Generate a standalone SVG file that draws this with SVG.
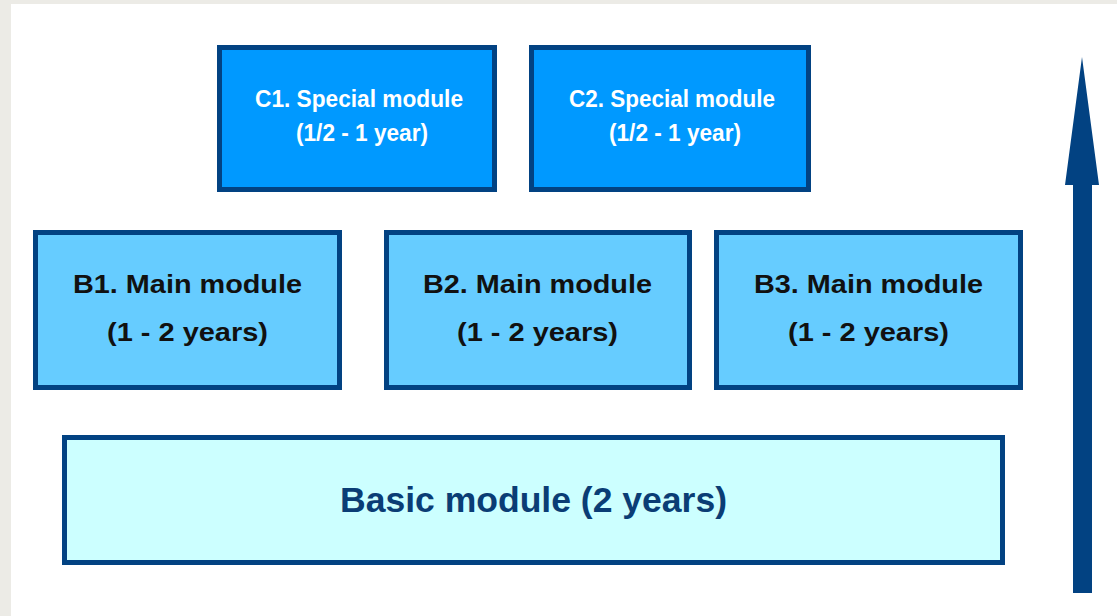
<svg xmlns="http://www.w3.org/2000/svg" width="1117" height="616" viewBox="0 0 1117 616">
  <style>
    .box { stroke: #024282; stroke-width: 5; }
    .c { fill: #0099ff; }
    .b { fill: #66ccff; }
    .basic { fill: #ccffff; }
    .t { font-family: "Liberation Sans", Arial, sans-serif; font-weight: bold; text-anchor: middle; }
    .ct { fill: #ffffff; font-size: 23px; }
    .bt { fill: #111111; font-size: 25px; }
    .basict { fill: #0a3d75; font-size: 35.5px; }
  </style>
  <rect x="0" y="0" width="1117" height="616" fill="#ecebe6"/>
  <rect x="11" y="4" width="1106" height="612" fill="#ffffff"/>

  <g id="C1">
    <rect class="box c" x="219.5" y="47.5" width="275" height="142"/>
    <text class="t ct" x="359" y="107" textLength="208" lengthAdjust="spacingAndGlyphs">C1. Special module</text>
    <text class="t ct" x="362" y="141" textLength="132" lengthAdjust="spacingAndGlyphs">(1/2 - 1 year)</text>
  </g>
  <g id="C2">
    <rect class="box c" x="531.5" y="47.5" width="277" height="142"/>
    <text class="t ct" x="672" y="107" textLength="206" lengthAdjust="spacingAndGlyphs">C2. Special module</text>
    <text class="t ct" x="675" y="141" textLength="132" lengthAdjust="spacingAndGlyphs">(1/2 - 1 year)</text>
  </g>

  <g id="B1">
    <rect class="box b" x="35.5" y="232.5" width="304" height="155"/>
    <text class="t bt" x="187.5" y="293" textLength="229" lengthAdjust="spacingAndGlyphs">B1. Main module</text>
    <text class="t bt" x="187.5" y="341" textLength="161" lengthAdjust="spacingAndGlyphs">(1 - 2 years)</text>
  </g>
  <g id="B2">
    <rect class="box b" x="386.5" y="232.5" width="303" height="155"/>
    <text class="t bt" x="537.5" y="293" textLength="229" lengthAdjust="spacingAndGlyphs">B2. Main module</text>
    <text class="t bt" x="537.5" y="341" textLength="161" lengthAdjust="spacingAndGlyphs">(1 - 2 years)</text>
  </g>
  <g id="B3">
    <rect class="box b" x="716.5" y="232.5" width="304" height="155"/>
    <text class="t bt" x="868.5" y="293" textLength="229" lengthAdjust="spacingAndGlyphs">B3. Main module</text>
    <text class="t bt" x="868.5" y="341" textLength="161" lengthAdjust="spacingAndGlyphs">(1 - 2 years)</text>
  </g>

  <g id="Basic">
    <rect class="box basic" x="64.5" y="437.5" width="938" height="125"/>
    <text class="t basict" x="533.5" y="512" textLength="387" lengthAdjust="spacingAndGlyphs">Basic module (2 years)</text>
  </g>

  <g id="connectors">
    <polygon points="1082,57 1099,185 1092,185 1092,593 1073,593 1073,185 1065,185" fill="#024282"/>
  </g>
</svg>
